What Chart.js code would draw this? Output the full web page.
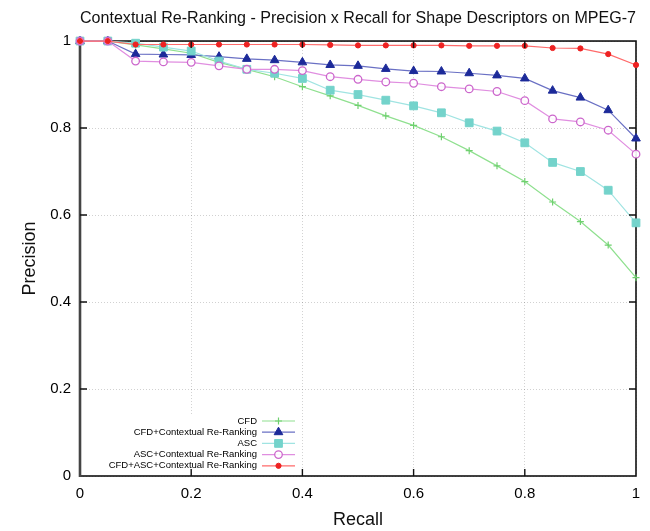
<!DOCTYPE html>
<html>
<head>
<meta charset="utf-8">
<script src="https://cdn.jsdelivr.net/npm/chart.js@4.4.1/dist/chart.umd.min.js"></script>
<style>
  html, body { margin: 0; padding: 0; background: #fff; }
  #wrap { width: 650px; height: 531px; position: relative; }
</style>
</head>
<body>
<div id="wrap"><canvas id="c" width="650" height="531"></canvas></div>
<script>
const titleText = 'Contextual Re-Ranking - Precision x Recall for Shape Descriptors on MPEG-7';
const xTitle = 'Recall';
const yTitle = 'Precision';
const seriesLabels = ['CFD', 'CFD+Contextual Re-Ranking', 'ASC', 'ASC+Contextual Re-Ranking', 'CFD+ASC+Contextual Re-Ranking'];

const recall = [0, 0.05, 0.1, 0.15, 0.2, 0.25, 0.3, 0.35, 0.4, 0.45, 0.5, 0.55, 0.6, 0.65, 0.7, 0.75, 0.8, 0.85, 0.9, 0.95, 1];
const cfd       = [1, 1, 0.991, 0.982, 0.972, 0.951, 0.935, 0.918, 0.895, 0.874, 0.852, 0.828, 0.806, 0.780, 0.748, 0.713, 0.677, 0.630, 0.585, 0.531, 0.456];
const cfdCR     = [1, 1, 0.970, 0.969, 0.968, 0.964, 0.959, 0.956, 0.951, 0.945, 0.943, 0.936, 0.931, 0.930, 0.926, 0.921, 0.914, 0.886, 0.870, 0.841, 0.776];
const asc       = [1, 1, 0.995, 0.986, 0.977, 0.954, 0.935, 0.926, 0.914, 0.887, 0.877, 0.864, 0.851, 0.835, 0.812, 0.793, 0.766, 0.721, 0.700, 0.657, 0.582];
const ascCR     = [1, 1, 0.954, 0.952, 0.951, 0.943, 0.935, 0.935, 0.932, 0.918, 0.912, 0.906, 0.903, 0.895, 0.890, 0.884, 0.863, 0.821, 0.814, 0.795, 0.740];
const cfdAscCR  = [1, 1, 0.992, 0.992, 0.992, 0.992, 0.992, 0.992, 0.992, 0.991, 0.990, 0.990, 0.990, 0.990, 0.989, 0.989, 0.989, 0.984, 0.983, 0.970, 0.945];
const xTicks = [0, 0.2, 0.4, 0.6, 0.8, 1];
const yTicks = [0, 0.2, 0.4, 0.6, 0.8, 1];
const tickLabel = v => String(Number(v.toFixed(2)));

const FONT = '"Liberation Sans", Arial, sans-serif';
Chart.defaults.font.family = FONT;
Chart.defaults.color = '#000';

const styles = [
  { line: '#8fe08f', mark: '#6fd06f', pointStyle: 'cross', radius: 3.5, bw: 1.2, fill: '#6fd06f' },
  { line: '#6a70c4', mark: '#1c2a99', pointStyle: 'triangle', radius: 5, bw: 1, fill: '#1c2a99' },
  { line: '#a0e4e2', mark: '#74d3cb', pointStyle: 'rect', radius: 5.5, bw: 1, fill: '#74d3cb' },
  { line: '#e08ee0', mark: '#cc66cc', pointStyle: 'circle', radius: 3.8, bw: 1.3, fill: 'rgba(255,255,255,0.9)' },
  { line: '#ff6a6a', mark: '#ee2222', pointStyle: 'circle', radius: 2.6, bw: 1, fill: '#ee2222' }
];
const values = [cfd, cfdCR, asc, ascCR, cfdAscCR];

const datasets = values.map((vals, i) => ({
  label: seriesLabels[i],
  data: recall.map((r, j) => ({ x: r, y: vals[j] })),
  borderColor: styles[i].line,
  borderWidth: 1.2,
  backgroundColor: styles[i].fill,
  pointStyle: styles[i].pointStyle,
  pointRadius: styles[i].radius,
  pointBackgroundColor: styles[i].fill,
  pointBorderColor: styles[i].mark,
  pointBorderWidth: styles[i].bw,
  tension: 0,
  fill: false,
  clip: false,
  order: 4 - i
}));

const framePlugin = {
  id: 'frame',
  beforeDatasetsDraw(chart) {
    const { ctx, chartArea: a } = chart;
    ctx.save();
    ctx.strokeStyle = '#111';
    ctx.lineWidth = 1.6;
    ctx.strokeRect(a.left, a.top, a.right - a.left, a.bottom - a.top);
    ctx.strokeStyle = '#444';
    ctx.lineWidth = 2.6;
    ctx.beginPath();
    ctx.moveTo(a.left, a.top - 1);
    ctx.lineTo(a.left, a.bottom + 1);
    ctx.stroke();
    ctx.restore();
  },
  afterDraw(chart) {
    const { ctx, chartArea: a, scales } = chart;
    const len = 7;
    ctx.save();
    ctx.strokeStyle = '#111';
    ctx.lineWidth = 1.4;
    ctx.beginPath();
    xTicks.forEach(v => {
      const x = scales.x.getPixelForValue(v);
      if (v > 0 && v < 1) {
        ctx.moveTo(x, a.bottom); ctx.lineTo(x, a.bottom - len);
        ctx.moveTo(x, a.top); ctx.lineTo(x, a.top + len);
      }
    });
    yTicks.forEach(v => {
      const y = scales.y.getPixelForValue(v);
      if (v > 0 && v < 1) {
        ctx.moveTo(a.left, y); ctx.lineTo(a.left + len, y);
        ctx.moveTo(a.right, y); ctx.lineTo(a.right - len, y);
      }
    });
    ctx.stroke();
    ctx.restore();
  }
};

const keyPlugin = {
  id: 'gnuKey',
  afterDatasetsDraw(chart) {
    const { ctx, chartArea: a } = chart;
    const textRight = a.left + 177, lineL = a.left + 182, lineR = a.left + 215;
    const y0 = a.bottom - 55, dy = 11.2;
    ctx.save();
    ctx.font = '9.5px ' + FONT;
    ctx.fillStyle = '#fff';
    let maxW = 0;
    chart.data.datasets.forEach(ds => { maxW = Math.max(maxW, ctx.measureText(ds.label).width); });
    ctx.fillRect(textRight - maxW - 3, y0 - 7, (lineR + 3) - (textRight - maxW - 3), dy * 4 + 13);
    chart.data.datasets.forEach((ds, i) => {
      const y = y0 + i * dy;
      ctx.fillStyle = '#000';
      ctx.textAlign = 'right';
      ctx.textBaseline = 'middle';
      ctx.fillText(ds.label, textRight, y);
      ctx.strokeStyle = ds.borderColor;
      ctx.lineWidth = ds.borderWidth;
      ctx.beginPath();
      ctx.moveTo(lineL, y); ctx.lineTo(lineR, y);
      ctx.stroke();
      ctx.fillStyle = ds.pointBackgroundColor;
      ctx.strokeStyle = ds.pointBorderColor;
      ctx.lineWidth = ds.pointBorderWidth;
      if (Chart.helpers && Chart.helpers.drawPoint) {
        Chart.helpers.drawPoint(ctx, { pointStyle: ds.pointStyle, radius: ds.pointRadius, borderWidth: ds.pointBorderWidth, rotation: 0 }, (lineL + lineR) / 2, y);
      } else {
        ctx.beginPath(); ctx.arc((lineL + lineR) / 2, y, ds.pointRadius, 0, Math.PI * 2); ctx.fill(); ctx.stroke();
      }
    });
    ctx.restore();
  }
};

new Chart(document.getElementById('c'), {
  type: 'line',
  data: { datasets },
  plugins: [framePlugin, keyPlugin],
  options: {
    responsive: false,
    animation: false,
    events: [],
    layout: { padding: { left: 0, right: 14, top: 0, bottom: 0 } },
    plugins: {
      legend: { display: false },
      tooltip: { enabled: false },
      title: {
        display: true,
        fullSize: false,
        text: titleText,
        font: { size: 17.2, weight: 'normal' },
        color: '#111',
        padding: { top: 8, bottom: 12.4 }
      }
    },
    scales: {
      x: {
        type: 'linear',
        min: 0, max: 1,
        afterBuildTicks: s => { s.ticks = xTicks.map(v => ({ value: v })); },
        afterFit: s => { s.height = 55; },
        ticks: { font: { size: 15 }, padding: 9, color: '#000', maxRotation: 0, callback: tickLabel },
        grid: { color: 'rgba(0,0,0,0.18)', lineWidth: 1, drawTicks: false },
        border: { display: false, dash: [1, 2] },
        title: { display: true, text: xTitle, font: { size: 18 }, color: '#111', padding: { top: 0, bottom: 0 } }
      },
      y: {
        type: 'linear',
        min: 0, max: 1,
        afterBuildTicks: s => { s.ticks = yTicks.map(v => ({ value: v })); },
        afterFit: s => { s.width = 80; },
        ticks: { font: { size: 15 }, padding: 9, color: '#000', callback: tickLabel },
        grid: { color: 'rgba(0,0,0,0.18)', lineWidth: 1, drawTicks: false },
        border: { display: false, dash: [1, 2] },
        title: { display: true, text: yTitle, font: { size: 18 }, color: '#111', padding: { top: 19, bottom: 0 } }
      }
    }
  }
});
</script>
</body>
</html>
